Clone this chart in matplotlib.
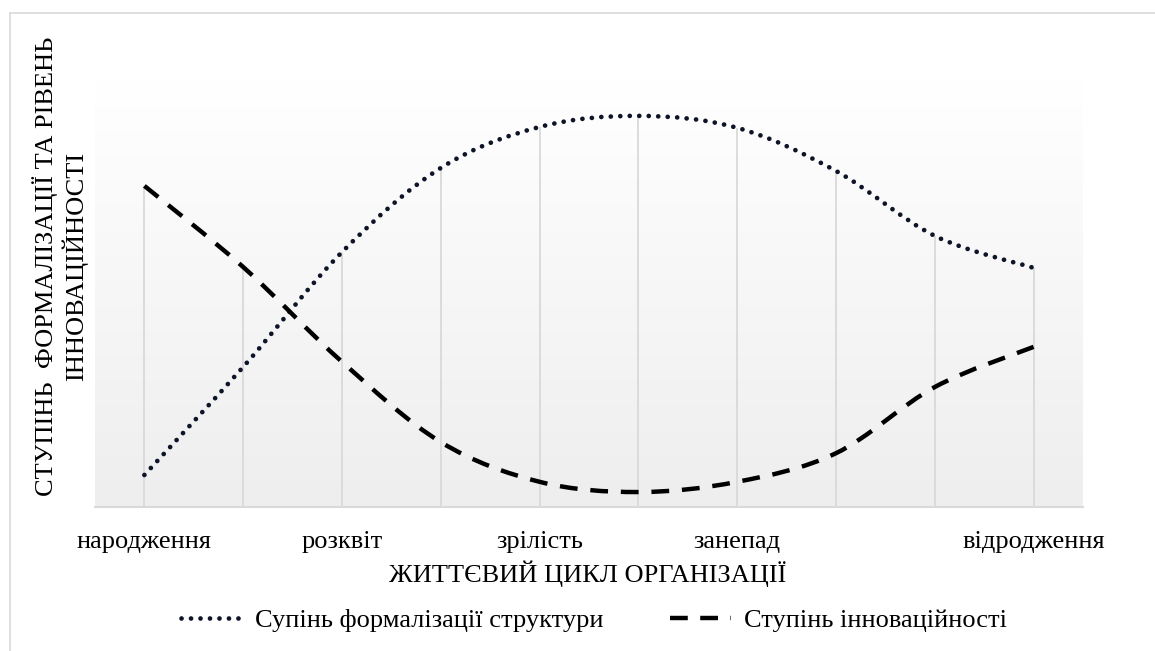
import numpy as np
import matplotlib
matplotlib.use("Agg")
import matplotlib.pyplot as plt
from matplotlib.path import Path
from matplotlib.patches import PathPatch
from matplotlib.lines import Line2D
from matplotlib.colors import LinearSegmentedColormap

plt.rcParams['font.family'] = ['Liberation Serif', 'DejaVu Serif']

# ---- data ----
categories = ["народження", "", "розквіт", "", "зрілість", "", "занепад", "", "", "відродження"]
formalization = [0.75, 3.28, 5.97, 7.94, 8.90, 9.16, 8.88, 7.87, 6.35, 5.60]
innovation = [7.52, 5.62, 3.40, 1.52, 0.59, 0.35, 0.59, 1.26, 2.81, 3.75]
series_names = ["Супінь формалізації структури", "Ступінь інноваційності"]
x_title = "ЖИТТЄВИЙ ЦИКЛ ОРГАНІЗАЦІЇ"
y_title = "СТУПІНЬ  ФОРМАЛІЗАЦІЇ ТА РІВЕНЬ\nІННОВАЦІЙНОСТІ"

W, H = 1155, 651
FS = 19
GRID = "#d9d9d9"
DOT_COLOR = "#0e1428"

fig = plt.figure(figsize=(W / 100, H / 100), dpi=100)
fig.patch.set_facecolor("white")

# outer chart border (left and top visible)
fig.add_artist(Line2D([9.5 / W, 9.5 / W], [0, 1 - 13 / H], transform=fig.transFigure,
                      color=GRID, lw=1.2))
fig.add_artist(Line2D([9.5 / W, 1], [1 - 13 / H, 1 - 13 / H], transform=fig.transFigure,
                      color=GRID, lw=1.2))

left, right, top, bottom = 95, 1083, 80, 507
ax = fig.add_axes([left / W, (H - bottom) / H, (right - left) / W, (bottom - top) / H])
x = np.arange(len(categories))
ax.set_xlim(-0.5, len(categories) - 0.5)
ax.set_ylim(0, 10)

# gradient plot area background
cmap = LinearSegmentedColormap.from_list("bg", ["#eeeeee", "#ffffff"])
grad = np.linspace(0, 1, 256)[:, None]
ax.imshow(grad, extent=[-0.5, len(categories) - 0.5, 0, 10], origin="lower",
          aspect="auto", cmap=cmap, zorder=0)

# drop lines
tops = np.maximum(formalization, innovation)
ax.vlines(x, 0, tops, color=GRID, lw=1.3, zorder=1)


def bezier_points(xs, ys):
    pts = np.column_stack([xs, ys]).astype(float)
    n = len(pts)
    verts = [pts[0]]
    codes = [Path.MOVETO]
    for i in range(n - 1):
        p_prev = pts[i - 1] if i > 0 else pts[i]
        p0 = pts[i]
        p1 = pts[i + 1]
        p_next = pts[i + 2] if i + 2 < n else pts[i + 1]
        c1 = p0 + (p1 - p_prev) / 6.0
        c2 = p1 - (p_next - p0) / 6.0
        verts += [c1, c2, p1]
        codes += [Path.CURVE4] * 3
    return np.array(verts), codes


def pixel_length(verts):
    t = np.linspace(0, 1, 60)[:, None]
    total = 0.0
    for k in range(0, len(verts) - 1, 3):
        p0, c1, c2, p1 = verts[k:k + 4]
        seg = ((1 - t) ** 3) * p0 + 3 * ((1 - t) ** 2) * t * c1 + 3 * (1 - t) * t ** 2 * c2 + t ** 3 * p1
        px = ax.transData.transform(seg)
        total += np.sum(np.hypot(*np.diff(px, axis=0).T))
    return total


DOT_LW = 3.4
DASH_LW = 3.2
DASH_ON, DASH_OFF = 4.0, 2.8
dot_style = (0, (0.01, 2.0))

v1, c1codes = bezier_points(x, formalization)
p1 = PathPatch(Path(v1, c1codes), fill=False, edgecolor=DOT_COLOR, lw=DOT_LW,
               linestyle=dot_style, capstyle="round", zorder=3)
ax.add_patch(p1)

v2, c2codes = bezier_points(x, innovation)
# fit the dash gap so the line starts and ends on a full dash
lw_px = DASH_LW * 100 / 72
L_units = pixel_length(v2) / lw_px
n_per = max(1, int(round((L_units - DASH_ON) / (DASH_ON + DASH_OFF))))
gap = (L_units - DASH_ON) / n_per - DASH_ON
dash_style = (0, (DASH_ON, gap))
p2 = PathPatch(Path(v2, c2codes), fill=False, edgecolor="black", lw=DASH_LW,
               linestyle=dash_style, capstyle="butt", zorder=3)
ax.add_patch(p2)

# axes styling
for s in ["left", "right", "top"]:
    ax.spines[s].set_visible(False)
ax.spines["bottom"].set_color(GRID)
ax.spines["bottom"].set_linewidth(1.5)
ax.set_yticks([])
ax.set_xticks(x)
ax.set_xticklabels(categories, fontsize=FS)
ax.tick_params(axis="x", length=0, pad=17)

fig.text(588 / W, 1 - 582 / H, x_title, fontsize=FS, ha="center", va="baseline")
fig.text(60 / W, 1 - 266 / H, y_title, fontsize=FS, rotation=90, ha="center", va="center",
         multialignment="center", linespacing=1.2)

handles = [Line2D([], [], color=DOT_COLOR, lw=DOT_LW, linestyle=dot_style, dash_capstyle="round"),
           Line2D([], [], color="black", lw=DASH_LW, linestyle=(0, (DASH_ON, DASH_OFF)),
                  dash_capstyle="butt")]
fig.legend(handles, series_names, loc="center", bbox_to_anchor=(594 / W, 1 - 620 / H),
           ncol=2, frameon=False, fontsize=FS, handlelength=2.31, handletextpad=0.5,
           columnspacing=2.5, borderpad=0, borderaxespad=0)

fig.savefig("out.png", dpi=100, facecolor="white")
